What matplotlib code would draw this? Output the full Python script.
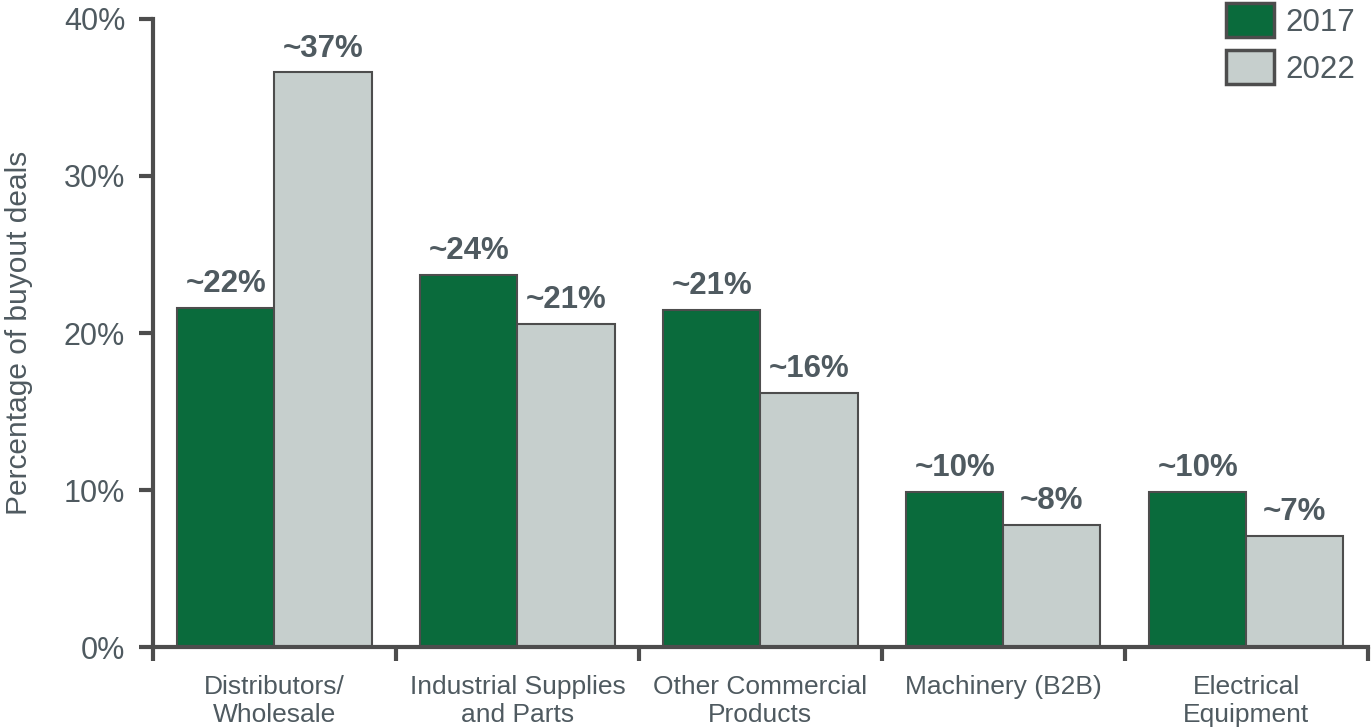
import matplotlib
matplotlib.use("Agg")
import matplotlib.pyplot as plt
import numpy as np

plt.rcParams['font.family'] = ['Liberation Sans', 'DejaVu Sans']

# chart data
categories = ["Distributors/\nWholesale", "Industrial Supplies\nand Parts",
              "Other Commercial\nProducts", "Machinery (B2B)", "Electrical\nEquipment"]
vals_2017 = [21.6, 23.7, 21.5, 9.9, 9.9]
vals_2022 = [36.6, 20.6, 16.2, 7.8, 7.1]
labels_2017 = ["~22%", "~24%", "~21%", "~10%", "~10%"]
labels_2022 = ["~37%", "~21%", "~16%", "~8%", "~7%"]

green = "#0a6b3c"
grey = "#c6cfcd"
edge = "#4d4d4d"
txt = "#4f5a60"

fig = plt.figure(figsize=(13.71, 7.28), dpi=100)
ax = fig.add_axes([0.1116, 0.111, 0.886, 0.863])

x = np.arange(len(categories))
w = 0.4
b1 = ax.bar(x - w / 2, vals_2017, w, color=green, edgecolor=edge, linewidth=1.5, label="2017")
b2 = ax.bar(x + w / 2, vals_2022, w, color=grey, edgecolor=edge, linewidth=1.5, label="2022")

for bars, labs in ((b1, labels_2017), (b2, labels_2022)):
    for r, lab in zip(bars, labs):
        ax.text(r.get_x() + r.get_width() / 2, r.get_height() + 0.55, lab,
                ha="center", va="bottom", fontsize=22.5, fontweight="bold", color=txt)

ax.set_xlim(-0.5, len(categories) - 0.5)
ax.set_ylim(0, 40)
ax.set_yticks([0, 10, 20, 30, 40])
ax.set_yticklabels(["0%", "10%", "20%", "30%", "40%"])
ax.set_ylabel("Percentage of buyout deals", fontsize=21.5, color=txt, labelpad=22)

# category labels centered, ticks at group boundaries
ax.set_xticks(x)
ax.set_xticklabels(categories, fontsize=19, color=txt, linespacing=1.22)
ax.tick_params(axis="x", length=0, pad=20)
ax.set_xticks(np.arange(len(categories) + 1) - 0.5, minor=True)
ax.tick_params(axis="x", which="minor", length=10, width=3, color=edge)
ax.tick_params(axis="y", labelsize=22, labelcolor=txt, length=10, width=3, color=edge, pad=10)

for s in ("top", "right"):
    ax.spines[s].set_visible(False)
for s in ("left", "bottom"):
    ax.spines[s].set_linewidth(3)
    ax.spines[s].set_color(edge)

leg = ax.legend(loc="upper right", bbox_to_anchor=(1.0, 1.045), frameon=False,
                fontsize=22.5, handlelength=1.55, handleheight=1.3, handletextpad=0.35,
                labelspacing=0.4, borderaxespad=0)
for t in leg.get_texts():
    t.set_color(txt)
for h in leg.legend_handles:
    h.set_edgecolor(edge)
    h.set_linewidth(2.5)

fig.savefig("out.png", dpi=100)
